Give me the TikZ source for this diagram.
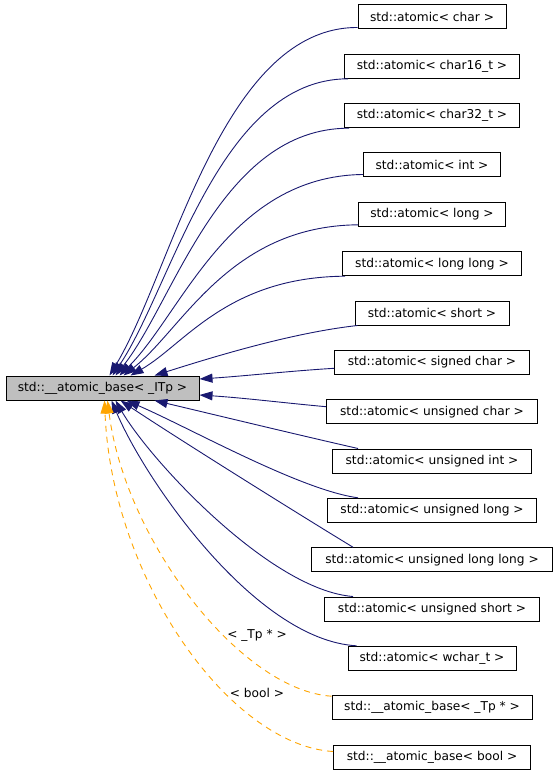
\documentclass[tikz,border=0pt]{standalone}
\usepackage{fontspec}
\setmainfont{DejaVu Sans}
\usetikzlibrary{arrows.meta}
\definecolor{edgeblue}{RGB}{25,25,112}
\definecolor{edgeorange}{RGB}{255,165,0}
\definecolor{basegray}{RGB}{191,191,191}

\begin{document}
\begin{tikzpicture}[x=1pt, y=-1pt,
    cls/.style={draw=black, line width=1pt, fill=white, minimum width=#1, minimum height=24, inner sep=0pt, font=\fontsize{12.2}{14}\selectfont},
    inh/.style={draw=edgeblue, line width=0.9pt, -{Triangle[length=13pt,width=9pt]}},
    tmpl/.style={draw=edgeorange, line width=0.9pt, dash pattern=on 6pt off 5pt, -{Triangle[length=13pt,width=9pt]}},
    lbl/.style={font=\fontsize{12.2}{14}\selectfont, inner sep=0pt}]
	\useasboundingbox (0,0) rectangle (557,775);
	% base class
	\node [cls=193, fill=basegray] (base) at (102.5,388) {std::\_\_atomic\_base< \_ITp >};
	% derived classes
	\node [cls=148] (c1) at (432,17) {std::atomic< char >};
	\node [cls=175] (c2) at (432,66.3) {std::atomic< char16\_t >};
	\node [cls=175] (c3) at (432,115.7) {std::atomic< char32\_t >};
	\node [cls=137] (c4) at (432,165) {std::atomic< int >};
	\node [cls=147] (c5) at (432,214.3) {std::atomic< long >};
	\node [cls=179] (c6) at (432,263.7) {std::atomic< long long >};
	\node [cls=154] (c7) at (432,313) {std::atomic< short >};
	\node [cls=195] (c8) at (432,362.3) {std::atomic< signed char >};
	\node [cls=211] (c9) at (432,411.7) {std::atomic< unsigned char >};
	\node [cls=199] (c10) at (432,461) {std::atomic< unsigned int >};
	\node [cls=209] (c11) at (432,510.3) {std::atomic< unsigned long >};
	\node [cls=241] (c12) at (432,559.7) {std::atomic< unsigned long long >};
	\node [cls=215] (c13) at (432,609) {std::atomic< unsigned short >};
	\node [cls=168] (c14) at (432,658.3) {std::atomic< wchar\_t >};
	\node [cls=200] (d1) at (432,707.7) {std::\_\_atomic\_base< \_Tp * >};
	\node [cls=197] (d2) at (432,757) {std::\_\_atomic\_base< bool >};
	% inheritance edges
	\draw [inh] ([yshift=2]c1.south west) .. controls (222,27) and (172,272) .. ([xshift=104]base.north west);
	\draw [inh] ([xshift=4]c2.south west) .. controls (219,79) and (172,287) .. ([xshift=107]base.north west);
	\draw [inh] ([xshift=5]c3.south west) .. controls (221,128) and (174,302) .. ([xshift=110]base.north west);
	\draw [inh] ([yshift=3]c4.south west) .. controls (229,176) and (181,315) .. ([xshift=114]base.north west);
	\draw [inh] ([yshift=2]c5.south west) .. controls (229,226) and (182,330) .. ([xshift=118]base.north west);
	\draw [inh] ([xshift=3]c6.south west) .. controls (227,277) and (184,345) .. ([xshift=125]base.north west);
	\draw [inh] ([xshift=3]c7.south west) .. controls (290,333) and (210,358) .. ([xshift=149]base.north west);
	\draw [inh] ([yshift=-6]c8.west) .. controls (290,371) and (245,376) .. ([yshift=9]base.east);
	\draw [inh] ([yshift=5]c9.west) .. controls (285,403) and (245,398) .. ([yshift=-7]base.east);
	\draw [inh] ([xshift=26]c10.north west) .. controls (290,433) and (220,416) .. ([xshift=149]base.south west);
	\draw [inh] ([xshift=31]c11.north west) .. controls (300,490) and (190,428) .. ([xshift=121]base.south west);
	\draw [inh] ([xshift=42]c12.north west) .. controls (300,515) and (180,440) .. ([xshift=115]base.south west);
	\draw [inh] ([xshift=29]c13.north west) .. controls (270,590) and (150,460) .. ([xshift=110]base.south west);
	\draw [inh] ([xshift=9]c14.north west) .. controls (255,640) and (145,480) .. ([xshift=106]base.south west);
	% template instances
	\draw [tmpl] ([yshift=-1]d1.north west) .. controls (240,690) and (125,540) .. ([xshift=102]base.south west);
	\draw [tmpl] ([yshift=-7]d2.north west) .. controls (230,745) and (112,580) .. ([xshift=99]base.south west);
	\node [lbl] (l1) at (257,635) {< \_Tp * >};
	\node [lbl] (l2) at (257,693) {< bool >};
\end{tikzpicture}
\end{document}
